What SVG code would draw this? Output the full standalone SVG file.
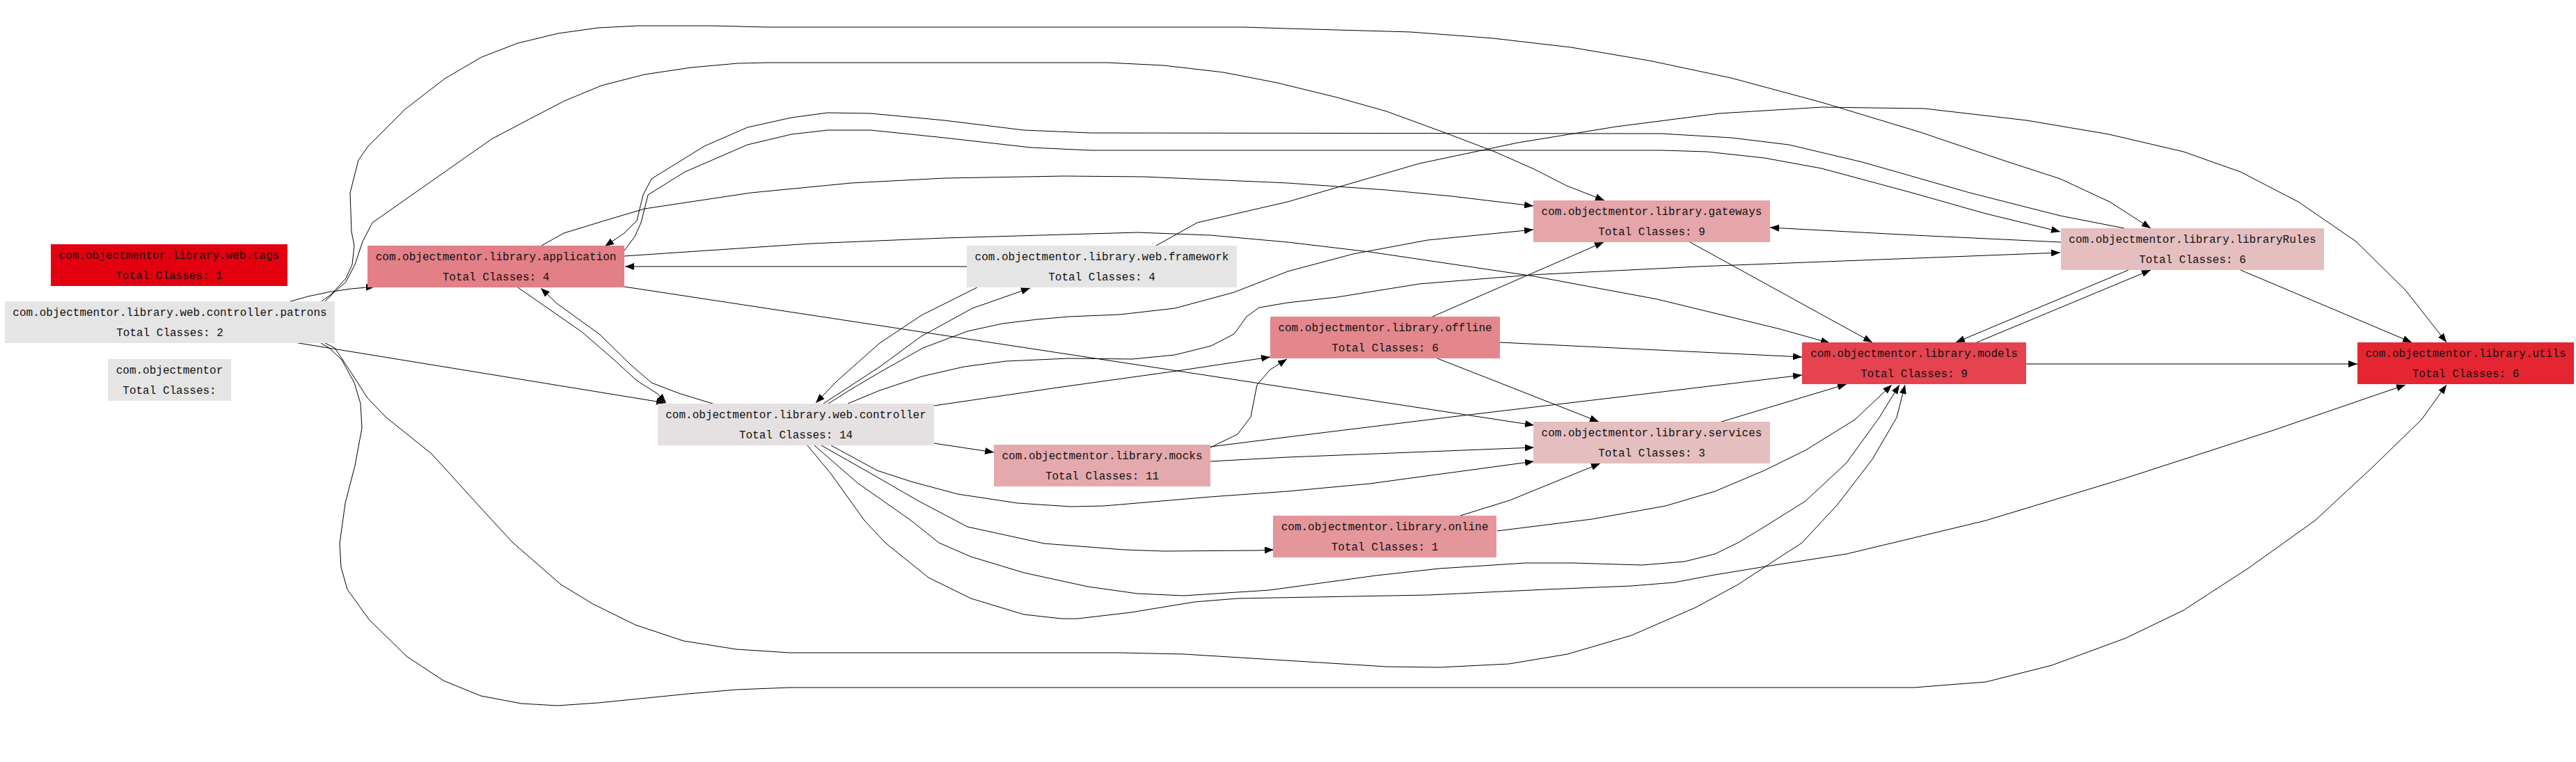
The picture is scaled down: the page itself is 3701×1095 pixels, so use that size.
<svg xmlns="http://www.w3.org/2000/svg" width="3701" height="1095" viewBox="0 0 3701 1095">
<style>
.n text{font-family:"Liberation Mono","DejaVu Sans Mono",monospace;font-size:16px;fill:#111;text-anchor:middle}
.e path{fill:none;stroke:#000;stroke-width:1;stroke-linejoin:round;marker-end:url(#ah)}
</style>
<defs>
<marker id="ah" markerUnits="userSpaceOnUse" markerWidth="14" markerHeight="10" refX="13" refY="5" orient="auto">
<path d="M0,0 L13,5 L0,10 z" fill="#000"/>
</marker>
</defs>
<rect width="3701" height="1095" fill="#fff"/>
<g class="e" id="connectors">
<path d="M414,434 Q470,416 539,412"/>
<path d="M423,492 L956,579"/>
<path d="M462,433 L476,423 L485,413 L497,400 L506,380 L509,353 L505,333 L503,277 L515,230 L529,210 L582,157 L639,113 L692,82 L744,62 L802,48 L859,40 L917,37 L1022,37 L1103,39 L1787,39 L1850,41 L2027,46 L2145,55 L2257,68 L2369,87 L2487,112 L2617,147 L2759,190 L2877,230 L2960,257 L3031,290 L3090,328"/>
<path d="M467,433 L480,420 L497,405 L510,380 L521,347 L535,320 L582,287 L639,247 L706,200 L759,172 L811,145 L864,123 L926,107 L993,97 L1060,91 L1103,90 L1591,90 L1672,94 L1758,104 L1835,119 L1921,140 L1992,160 L2074,190 L2145,217 L2204,243 L2251,267 L2305,288"/>
<path d="M467,493 L481,500 L503,533 L528,572 L555,600 L620,652 L700,740 L737,780 L806,840 L852,868 L913,898 L982,921 L1058,933 L1135,938 L1609,938 L1701,940 L1992,958 L2068,959 L2168,954 L2252,940 L2344,913 L2436,873 L2497,840 L2558,800 L2589,780 L2640,725 L2690,660 L2725,600 L2737,553"/>
<path d="M461,493 L473,500 L491,517 L509,550 L518,580 L520,615 L510,669 L496,723 L488,781 L490,815 L499,847 L530,890 L584,943 L637,978 L691,1000 L749,1011 L801,1014 L859,1010 L989,997 L1058,991 L1135,988 L2750,988 L2800,984 L2853,980 L2948,956 L3054,917 L3137,877 L3231,816 L3326,748 L3408,672 L3479,603 L3515,553"/>
<path d="M744,413 L790,445 L836,477 L880,515 L915,547 L945,566 L957,579"/>
<path d="M1027,581 L975,565 L936,550 L907,525 L861,480 L800,436 L777,414"/>
<path d="M778,353 L810,335 L869,317 L926,300 L1079,277 L1223,263 L1357,256 L1529,253 L1644,254 L1850,263 L1992,273 L2086,282 L2203,296"/>
<path d="M897,360 L912,340 L921,320 L931,280 L984,247 L1074,208 L1137,193 L1189,187 L1251,187 L1357,198 L1481,212 L1567,216 L2387,216 L2452,218 L2535,227 L2617,242 L2747,277 L2853,307 L2960,333"/>
<path d="M3052,328 L2960,310 L2830,277 L2676,233 L2570,208 L2488,198 L2387,192 L1567,191 L1471,187 L1357,173 L1251,163 L1189,162 L1137,169 L1074,183 L1012,210 L936,257 L924,280 L915,317 L897,335 L869,354"/>
<path d="M897,368 L1165,350 L1357,342 L1634,334 L1739,338 L1850,348 L1968,362 L2204,397 L2381,430 L2558,473 L2629,493"/>
<path d="M897,412 L2204,611"/>
<path d="M1389,383 L898,383"/>
<path d="M1404,413 L1324,453 L1264,493 L1203,547 L1172,579"/>
<path d="M1183,580 L1264,527 L1324,483 L1397,443 L1480,414"/>
<path d="M1661,353 L1720,320 L1850,290 L2039,235 L2181,205 L2322,182 L2470,163 L2617,154 L2765,156 L2912,173 L3030,193 L3137,218 L3219,247 L3302,290 L3385,347 L3456,417 L3515,492"/>
<path d="M1190,580 L1225,558 L1264,535 L1326,500 L1390,476 L1440,465 L1490,459 L1536,455 L1609,452 L1688,443 L1773,420 L1850,390 L1944,365 L2051,345 L2203,330"/>
<path d="M1218,580 L1264,561 L1324,541 L1385,527 L1445,519 L1536,515 L1627,516 L1688,510 L1740,497 L1773,480 L1791,455 L1809,442 L1850,435 L1921,427 L2039,408 L2200,395 L2440,383 L2960,363"/>
<path d="M1342,583 L1519,557 L1691,533 L1825,513"/>
<path d="M1342,637 L1428,650"/>
<path d="M1194,640 L1260,676 L1309,692 L1376,710 L1462,723 L1538,728 L1586,727 L1739,714 L1850,706 L1968,695 L2086,679 L2204,663"/>
<path d="M1180,640 L1261,686 L1318,719 L1390,757 L1500,781 L1615,790 L1672,792 L1806,791 L1830,790"/>
<path d="M1170,640 L1232,694 L1309,748 L1349,780 L1395,800 L1471,823 L1563,843 L1634,853 L1701,856 L1824,848 L1977,827 L2068,817 L2191,809 L2260,809 L2359,812 L2420,807 L2464,796 L2497,780 L2535,757 L2594,720 L2653,665 L2700,600 L2729,553"/>
<path d="M1160,640 L1194,681 L1242,748 L1272,780 L1334,830 L1395,860 L1471,883 L1525,889 L1548,889 L1625,880 L1716,865 L1778,860 L2053,855 L2221,847 L2344,842 L2405,837 L2464,826 L2543,813 L2653,796 L2853,748 L3054,687 L3267,618 L3456,553"/>
<path d="M1739,643 L1778,624 L1797,599 L1806,553 L1825,531 L1849,516"/>
<path d="M1739,642 L1850,628 L2086,599 L2322,571 L2589,539"/>
<path d="M1739,663 L1850,657 L2204,643"/>
<path d="M2058,455 L2304,348"/>
<path d="M2155,492 L2589,513"/>
<path d="M2065,515 L2297,606"/>
<path d="M2098,741 L2169,719 L2299,666"/>
<path d="M2151,763 L2287,746 L2393,727 L2464,706 L2535,676 L2594,647 L2665,603 L2718,553"/>
<path d="M2470,607 L2653,552"/>
<path d="M2428,348 L2690,492"/>
<path d="M2961,348 L2750,338 L2543,327"/>
<path d="M3058,388 L2810,492"/>
<path d="M2840,492 L3090,388"/>
<path d="M3219,388 L3465,492"/>
<path d="M2911,523 L3387,523"/>
</g>
<g class="n" id="web_tags"><rect x="73" y="351" width="340" height="60" fill="#E3000F"/><text x="243" y="372">com.objectmentor.library.web.tags</text><text x="243" y="401">Total Classes: 1</text></g>
<g class="n" id="web_controller_patrons"><rect x="7" y="433" width="474" height="60" fill="#E5E5E5"/><text x="244" y="454">com.objectmentor.library.web.controller.patrons</text><text x="244" y="483">Total Classes: 2</text></g>
<g class="n" id="objectmentor"><rect x="155" y="516" width="177" height="60" fill="#E5E5E5"/><text x="243.5" y="537">com.objectmentor</text><text x="243.5" y="566">Total Classes:</text></g>
<g class="n" id="application"><rect x="528" y="353" width="369" height="60" fill="#E37F86"/><text x="712.5" y="374">com.objectmentor.library.application</text><text x="712.5" y="403">Total Classes: 4</text></g>
<g class="n" id="web_framework"><rect x="1389" y="353" width="388" height="60" fill="#E5E5E5"/><text x="1583" y="374">com.objectmentor.library.web.framework</text><text x="1583" y="403">Total Classes: 4</text></g>
<g class="n" id="web_controller"><rect x="945" y="580" width="397" height="60" fill="#E5E0E1"/><text x="1143.5" y="601">com.objectmentor.library.web.controller</text><text x="1143.5" y="630">Total Classes: 14</text></g>
<g class="n" id="mocks"><rect x="1428" y="639" width="311" height="60" fill="#E4A9AD"/><text x="1583.5" y="660">com.objectmentor.library.mocks</text><text x="1583.5" y="689">Total Classes: 11</text></g>
<g class="n" id="offline"><rect x="1825" y="455" width="330" height="60" fill="#E3878D"/><text x="1990" y="476">com.objectmentor.library.offline</text><text x="1990" y="505">Total Classes: 6</text></g>
<g class="n" id="online"><rect x="1829" y="741" width="321" height="60" fill="#E4969B"/><text x="1989.5" y="762">com.objectmentor.library.online</text><text x="1989.5" y="791">Total Classes: 1</text></g>
<g class="n" id="gateways"><rect x="2203" y="288" width="340" height="60" fill="#E5A5A9"/><text x="2373" y="309">com.objectmentor.library.gateways</text><text x="2373" y="338">Total Classes: 9</text></g>
<g class="n" id="services"><rect x="2203" y="606" width="340" height="60" fill="#E5BEC0"/><text x="2373" y="627">com.objectmentor.library.services</text><text x="2373" y="656">Total Classes: 3</text></g>
<g class="n" id="libraryRules"><rect x="2961" y="328" width="378" height="60" fill="#E5BEC0"/><text x="3150" y="349">com.objectmentor.library.libraryRules</text><text x="3150" y="378">Total Classes: 6</text></g>
<g class="n" id="models"><rect x="2589" y="492" width="322" height="60" fill="#E5434F"/><text x="2750" y="513">com.objectmentor.library.models</text><text x="2750" y="542">Total Classes: 9</text></g>
<g class="n" id="utils"><rect x="3387" y="492" width="311" height="60" fill="#E52531"/><text x="3542.5" y="513">com.objectmentor.library.utils</text><text x="3542.5" y="542">Total Classes: 6</text></g>
</svg>
